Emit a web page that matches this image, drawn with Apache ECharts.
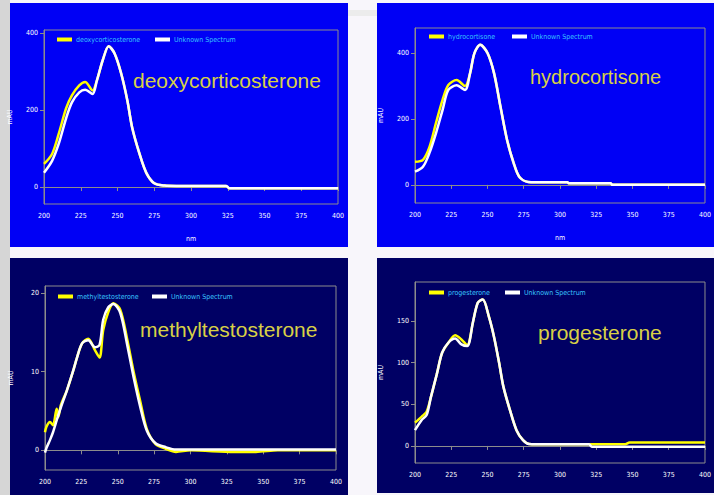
<!DOCTYPE html>
<html>
<head>
<meta charset="utf-8">
<script src="https://cdn.jsdelivr.net/npm/echarts@6/dist/echarts.min.js"></script>
<style>
  html, body { margin: 0; padding: 0; background: #f8f6fb; }
  #chart { width: 714px; height: 495px; }
</style>
</head>
<body>
<div id="chart"></div>
<script>
// UV spectra (mAU vs nm): reference standard vs unknown sample, four steroids

// Deoxycorticosterone
const nmDeoxy       = [200, 205.5, 210, 215, 219, 224, 228, 233, 236, 240, 244, 248, 252.5, 256.7, 260, 265, 269.6, 275, 282, 290, 324, 326, 375, 400];
const deoxyStandard = [60, 86, 138, 204, 238, 264, 273, 251, 277, 330, 366, 347, 295, 225, 154, 86, 37, 10, 4, 3, 3, -3, -3, -3];
const deoxyUnknown  = [37, 68, 112, 178, 220, 246, 253, 242, 277, 330, 366, 347, 295, 225, 154, 86, 37, 10, 4, 3, 3, -3, -3, -3];

// Hydrocortisone
const nmHydro       = [200, 205.5, 210, 214.5, 219, 223, 228.7, 234.5, 238, 241, 245, 250, 254.5, 259, 263.5, 268, 272, 278, 290, 305, 306, 335, 336, 400];
const hydroStandard = [70, 76, 115, 188, 258, 303, 318, 300, 339, 400, 425, 400, 339, 236, 136, 67, 24, 9, 8, 8, 5, 5, 0, 0];
const hydroUnknown  = [40, 55, 97, 157, 227, 288, 302, 288, 339, 400, 425, 400, 339, 236, 136, 67, 24, 9, 8, 8, 5, 5, 0, 0];

// Methyltestosterone
const nmMethyl       = [200, 201, 203.4, 205.5, 208, 209, 211, 215, 219.5, 222, 225.5, 229.7, 234.4, 237.5, 240, 243.5, 247, 251.7, 256.3, 260.9, 265.5, 270, 276, 283, 290, 300, 330, 345, 360, 400];
const methylStandard = [2.3, 3.0, 3.6, 3.2, 5.3, 4.2, 5.8, 7.6, 10.2, 11.8, 13.6, 14.2, 12.7, 11.8, 15.3, 17.6, 18.7, 17.9, 14.3, 10.0, 6.2, 2.7, 0.8, 0.2, -0.2, 0.0, -0.2, -0.2, 0.0, 0.0];
const methylUnknown  = [-0.3, 0.3, 1.3, 2.3, 3.8, 4.4, 5.5, 7.6, 10.2, 11.8, 13.6, 14.0, 13.1, 13.4, 16.6, 18.2, 18.6, 17.5, 13.6, 9.3, 5.5, 2.5, 0.9, 0.4, 0.1, 0.1, 0.1, 0.1, 0.1, 0.1];

// Progesterone
const nmProg       = [200, 204.5, 208, 211, 215, 218.7, 223, 227.7, 232, 236, 240, 243.3, 246.7, 251, 254.5, 258, 261, 265.5, 270, 274.5, 278.7, 290, 320, 322, 345, 348, 400];
const progStandard = [28, 35, 41, 59, 86, 112, 124, 133, 128, 121, 149, 172, 176, 155, 131, 100, 71, 43, 19, 7, 2.4, 2, 2, 2, 2, 4, 4];
const progUnknown  = [19, 31, 37, 59, 86, 112, 124, 129, 122, 120, 149, 172, 176, 155, 131, 100, 71, 43, 19, 7, 2.4, 2, 2, -1, -1, -1, -1];

// Axis ticks
const wavelengthTicks = [200, 225, 250, 275, 300, 325, 350, 375, 400];
const ticksDeoxy  = [0, 200, 400];
const ticksHydro  = [0, 200, 400];
const ticksMethyl = [0, 10, 20];
const ticksProg   = [0, 50, 100, 150];

const unknownName = 'Unknown Spectrum';
const yellow = '#ffff00';
const white = '#ffffff';
const legendText = '#38c4ff';
const titleColor = '#d8d046';
const frameColor = '#8c8c8c';
const tinyFont = '"Liberation Sans Narrow", "DejaVu Sans Condensed", "Liberation Sans", sans-serif';

const panels = [
  { name: 'deoxycorticosterone', nm: nmDeoxy, std: deoxyStandard, unk: deoxyUnknown, ticks: ticksDeoxy,
    bg: '#0000f5', box: [10, 3, 338, 244],
    grid: { left: 44, top: 30, width: 294, height: 174 }, yRange: [-44, 408],
    title: { x: 133, y: 80, size: 21 }, legend: [{ left: 57, top: 36 }, { left: 155, top: 36 }], xName: true },
  { name: 'hydrocortisone', nm: nmHydro, std: hydroStandard, unk: hydroUnknown, ticks: ticksHydro,
    bg: '#0000f5', box: [377, 3, 337, 244],
    grid: { left: 415, top: 28, width: 299, height: 175 }, yRange: [-55, 476],
    title: { x: 530, y: 77, size: 20 }, legend: [{ left: 429, top: 33 }, { left: 512, top: 33 }], xName: true },
  { name: 'methyltestosterone', nm: nmMethyl, std: methylStandard, unk: methylUnknown, ticks: ticksMethyl,
    bg: '#000064', box: [10, 258, 338, 237],
    grid: { left: 45, top: 286, width: 291, height: 184 }, yRange: [-2.5, 20.9],
    title: { x: 140, y: 329, size: 21 }, legend: [{ left: 58, top: 293 }, { left: 152, top: 293 }], xName: false },
  { name: 'progesterone', nm: nmProg, std: progStandard, unk: progUnknown, ticks: ticksProg,
    bg: '#000064', box: [377, 258, 337, 235],
    grid: { left: 415, top: 282, width: 299, height: 181 }, yRange: [-20.5, 197],
    title: { x: 538, y: 332, size: 21 }, legend: [{ left: 429, top: 289 }, { left: 505, top: 289 }], xName: false }
];

const pairs = (xs, ys) => xs.map((x, i) => [x, ys[i]]);

const option = {
  animation: false,
  grid: [], xAxis: [], yAxis: [], series: [], legend: [],
  graphic: []
};

// page furniture: grey strip on the left and a faint bar between top panels
option.graphic.push({ type: 'rect', shape: { x: 0, y: 0, width: 10, height: 495 }, style: { fill: '#d6d6d6' }, z: -10 });
option.graphic.push({ type: 'rect', shape: { x: 348, y: 10, width: 29, height: 6 }, style: { fill: '#ececec' }, z: -10 });

panels.forEach((p, i) => {
  option.graphic.push({
    type: 'rect', z: -5,
    shape: { x: p.box[0], y: p.box[1], width: p.box[2], height: p.box[3] },
    style: { fill: p.bg }
  });
  option.graphic.push({
    type: 'text', z: 5,
    style: {
      x: p.title.x, y: p.title.y, text: p.name, fill: titleColor,
      font: p.title.size + 'px "Liberation Sans", Arial, sans-serif', verticalAlign: 'middle'
    }
  });

  option.grid.push(Object.assign({ show: true, borderColor: frameColor, borderWidth: 1, backgroundColor: 'transparent' }, p.grid));

  option.xAxis.push({
    type: 'value', gridIndex: i, min: 200, max: 400, interval: 25,
    name: p.xName ? 'nm' : '', nameLocation: 'middle', nameGap: 31,
    nameTextStyle: { color: white, fontSize: 7, fontFamily: tinyFont },
    axisLine: { show: true, lineStyle: { color: frameColor } },
    axisTick: { show: true, length: 4, lineStyle: { color: frameColor } },
    axisLabel: { color: white, fontSize: 7, fontFamily: tinyFont, margin: 8,
                 customValues: wavelengthTicks },
    splitLine: { show: false }
  });

  option.yAxis.push({
    type: 'value', gridIndex: i, min: p.yRange[0], max: p.yRange[1],
    name: 'mAU', nameLocation: 'middle', nameGap: 31,
    nameTextStyle: { color: white, fontSize: 7, fontFamily: tinyFont },
    axisLine: { show: true, lineStyle: { color: frameColor } },
    axisTick: { show: true, length: 4, customValues: p.ticks, lineStyle: { color: frameColor } },
    axisLabel: { color: white, fontSize: 7, fontFamily: tinyFont, margin: 6, customValues: p.ticks },
    splitLine: { show: false }
  });

  option.series.push({
    type: 'line', name: p.name, xAxisIndex: i, yAxisIndex: i,
    data: pairs(p.nm, p.std), smooth: 0.3, showSymbol: false, z: 2,
    lineStyle: { color: yellow, width: 2.5 }, itemStyle: { color: yellow }
  });
  option.series.push({
    type: 'line', name: unknownName, xAxisIndex: i, yAxisIndex: i,
    data: pairs(p.nm, p.unk), smooth: 0.3, showSymbol: false, z: 3,
    lineStyle: { color: white, width: 2.5 }, itemStyle: { color: white }
  });

  [p.name, unknownName].forEach((nm, k) => {
    option.legend.push({
      data: [nm], left: p.legend[k].left, top: p.legend[k].top, padding: 0,
      icon: 'rect', itemWidth: 15, itemHeight: 4, itemGap: 0,
      selectedMode: false,
      textStyle: { color: legendText, fontSize: 7, fontFamily: tinyFont, padding: [0, 0, 0, -1] }
    });
  });
});

const chart = echarts.init(document.getElementById('chart'), null, { renderer: 'svg' });
chart.setOption(option);
</script>
</body>
</html>
